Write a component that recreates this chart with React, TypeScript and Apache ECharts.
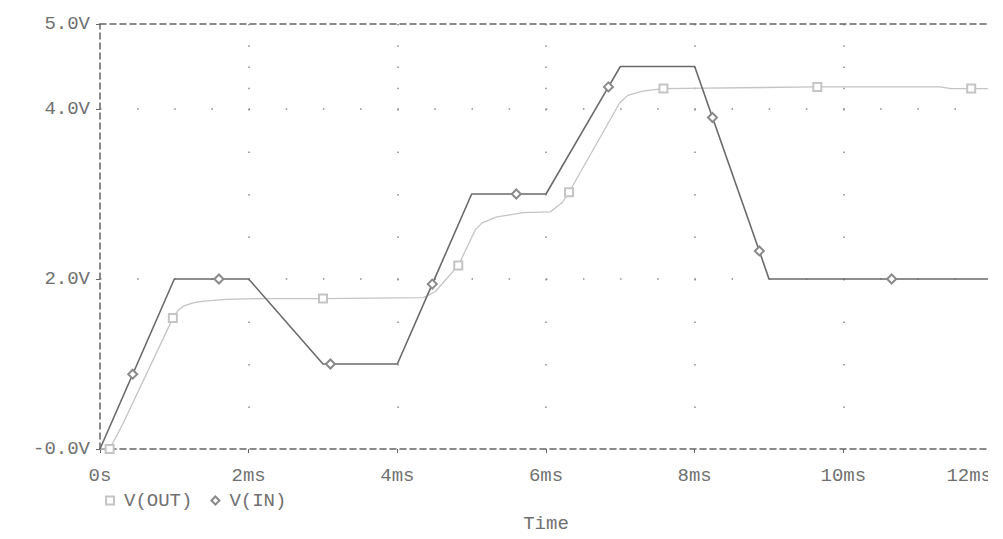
import React, { useEffect, useRef } from "react";
import * as echarts from "echarts";

// Tick labels
const xTickLabels = ["0s", "2ms", "4ms", "6ms", "8ms", "10ms", "12ms"]; // at 0,2,...,12 ms
const yTickValues = [0, 2, 4, 5];
const yTickLabels = ["-0.0V", "2.0V", "4.0V", "5.0V"];

// V(IN): time (ms) / voltage (V)
const vInTime = [0, 0.44, 1.0, 1.6, 2.0, 3.0, 3.1, 4.0, 4.47, 5.0, 5.6, 6.0, 6.84, 7.0, 8.0, 8.24, 8.87, 9.0, 10.65, 12.0];
const vInVolt = [0, 0.88, 2.0, 2.0, 2.0, 1.0, 1.0, 1.0, 1.94, 3.0, 3.0, 3.0, 4.26, 4.5, 4.5, 3.9, 2.33, 2.0, 2.0, 2.0];
const vInMarkers = [0.44, 1.6, 3.1, 4.47, 5.6, 6.84, 8.24, 8.87, 10.65];

// V(OUT): time (ms) / voltage (V)
const vOutTime = [0, 0.13, 0.31, 0.98, 1.05, 1.12, 1.25, 1.4, 1.7, 2.2, 3.0, 4.35, 4.51, 4.82, 5.05, 5.14, 5.34, 5.69, 6.06, 6.22, 6.31, 6.99, 7.1, 7.3, 7.58, 9.65, 11.3, 11.45, 11.72, 12.0];
const vOutVolt = [0, 0, 0.3, 1.54, 1.63, 1.68, 1.72, 1.74, 1.76, 1.77, 1.77, 1.78, 1.85, 2.16, 2.58, 2.66, 2.73, 2.78, 2.79, 2.9, 3.02, 4.07, 4.16, 4.21, 4.24, 4.26, 4.26, 4.24, 4.24, 4.24];
const vOutMarkers = [0.13, 0.98, 3.0, 4.82, 6.31, 7.58, 9.65, 11.72];

const FONT = "'Liberation Mono', 'DejaVu Sans Mono', monospace";
const TEXT = "#707070";
const AXIS = "#666666";
const DOT = "#8a8a8a";
const IN_COLOR = "#6a6a6a";
const OUT_COLOR = "#c4c4c4";

function buildData(times: number[], volts: number[], markers: number[], sym: string) {
  return times.map((t, i) =>
    markers.includes(t)
      ? { value: [t, volts[i]], symbol: sym }
      : { value: [t, volts[i]], symbol: "none" }
  );
}

export default function App() {
  const ref = useRef<HTMLDivElement>(null);
  useEffect(() => {
    document.body.style.margin = "0";
    const chart = echarts.init(ref.current!, undefined, { renderer: "svg" });
    const vDots: number[] = [1.5, 19.75, 1.5, 19.75, 1.5, 19.75, 1.5, 19.75,
      1.5, 41, 1.5, 41, 1.5, 41, 1.5, 41, 1.5, 41, 1.5, 41, 1.5, 41, 1.5, 41, 1.5, 60];
    chart.setOption({
      animation: false,
      backgroundColor: "#ffffff",
      grid: { left: 100, top: 24, width: 892, height: 425 },
      legend: {
        left: 100,
        top: 486,
        itemWidth: 8,
        itemHeight: 8,
        itemGap: 18,
        selectedMode: false,
        data: [
          { name: "V(OUT)", icon: "emptyRect" },
          { name: "V(IN)", icon: "emptyDiamond" },
        ],
        textStyle: { color: TEXT, fontFamily: FONT, fontSize: 19, padding: [0, 0, 0, 5] },
      },
      xAxis: [
        {
          type: "value",
          min: 0,
          max: 12,
          interval: 2,
          name: "Time",
          nameLocation: "middle",
          nameGap: 65,
          nameTextStyle: { color: TEXT, fontFamily: FONT, fontSize: 19 },
          axisLine: { onZero: false, lineStyle: { color: AXIS, width: 1.5, type: [6, 4] } },
          axisTick: { show: true, length: 4, lineStyle: { color: AXIS } },
          axisLabel: {
            color: TEXT,
            fontFamily: FONT,
            fontSize: 19,
            margin: 17,
            alignMaxLabel: "right",
            formatter: (v: number) => xTickLabels[Math.round(v / 2)] ?? "",
          },
          splitLine: {
            show: true,
            showMinLine: false,
            showMaxLine: false,
            lineStyle: { color: DOT, width: 1.5, type: vDots },
          },
        },
        {
          type: "value",
          position: "top",
          min: 0,
          max: 12,
          interval: 2,
          axisLine: { show: true, onZero: false, lineStyle: { color: AXIS, width: 1.5, type: [6, 4] } },
          axisTick: { show: false },
          axisLabel: { show: false },
          splitLine: { show: false },
        },
      ],
      yAxis: {
        type: "value",
        min: 0,
        max: 5,
        interval: 2,
        axisLine: { show: true, onZero: false, lineStyle: { color: AXIS, width: 1.5, type: [6, 4] } },
        axisTick: { show: true, length: 4, lineStyle: { color: AXIS } },
        axisLabel: {
          color: TEXT,
          fontFamily: FONT,
          fontSize: 19,
          margin: 10,
          formatter: (v: number) => {
            const i = yTickValues.indexOf(v);
            return i >= 0 ? yTickLabels[i] : "";
          },
        },
        splitLine: {
          show: true,
          showMinLine: false,
          showMaxLine: false,
          lineStyle: { color: DOT, width: 1.5, type: [1.5, 35.65] },
        },
      },
      series: [
        {
          name: "V(OUT)",
          type: "line",
          symbol: "emptyRect",
          symbolSize: 8,
          showSymbol: true,
          silent: true,
          lineStyle: { color: OUT_COLOR, width: 1.3 },
          itemStyle: { color: OUT_COLOR, borderWidth: 1 },
          emphasis: { disabled: true },
          data: buildData(vOutTime, vOutVolt, vOutMarkers, "emptyRect"),
          z: 3,
        },
        {
          name: "V(IN)",
          type: "line",
          symbol: "emptyDiamond",
          symbolSize: 9,
          showSymbol: true,
          silent: true,
          lineStyle: { color: IN_COLOR, width: 1.6 },
          itemStyle: { color: "#8a8a8a", borderWidth: 0.8 },
          emphasis: { disabled: true },
          data: buildData(vInTime, vInVolt, vInMarkers, "emptyDiamond"),
          z: 4,
        },
      ],
      graphic: [
        {
          type: "rect",
          x: 988,
          y: 0,
          shape: { width: 20, height: 539 },
          style: { fill: "#ffffff" },
          z: 100,
          silent: true,
        },
      ],
    });
    return () => chart.dispose();
  }, []);
  return <div ref={ref} style={{ width: 1003, height: 539 }} />;
}
